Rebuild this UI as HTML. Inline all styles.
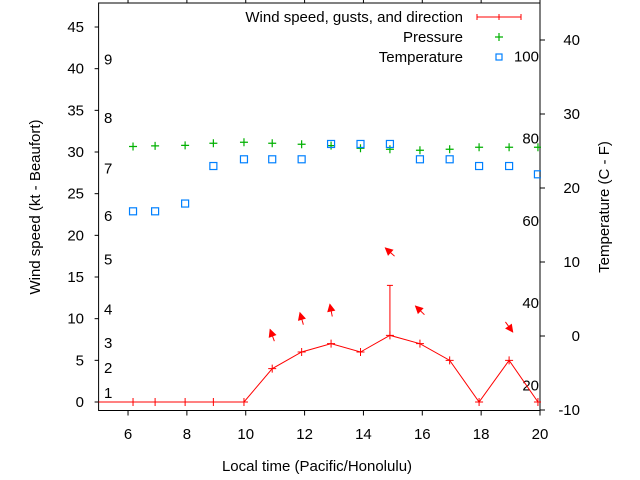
<!DOCTYPE html>
<html><head><meta charset="utf-8"><style>
html,body{margin:0;padding:0;background:#fff;width:640px;height:480px;overflow:hidden}
svg{display:block;font-family:"Liberation Sans",Arial,sans-serif;font-size:15px}
</style></head><body>
<svg id="chart" width="640" height="480" viewBox="0 0 640 480"></svg>
<script>
const times=[6.17,6.92,7.94,8.9,9.94,10.9,11.9,12.9,13.9,14.9,15.92,16.93,17.93,18.95,19.93];
const windSpeed=[0,0,0,0,0,4,6,7,6,8,7,5,0,5,0];
const windGust=[null,null,null,null,null,null,null,null,null,14,null,null,null,null,null];
const windDir=[null,null,null,null,null,340,344,349,null,312,314,null,null,144,null];
const pressure=[30.66,30.74,30.8,31.05,31.17,31.05,30.93,30.77,30.45,30.33,30.21,30.33,30.57,30.57,30.57];
const tempC=[16.85,16.85,17.9,22.97,23.88,23.88,23.88,25.95,25.95,25.95,23.88,23.88,22.97,22.97,21.85];
const xTicks=[6,8,10,12,14,16,18,20];
const yTicks=[0,5,10,15,20,25,30,35,40,45];
const y2Ticks=[-10,0,10,20,30,40];
const fTicks=[20,40,60,80,100];
const beaufortLabels=[1,2,3,4,5,6,7,8,9];
const beaufortY=[1.1,4.1,7.1,11.1,17.1,22.3,28,34.1,41.1];

const L=98.6,R=540,T=3,B=410.5;
const X=t=>L+(t-5)*(R-L)/15;
const Y=v=>402-v*8.333;
const Y2=c=>336-c*7.4;
const svg=document.getElementById('chart');
const NS='http://www.w3.org/2000/svg';
function mk(tag,attrs,parent){const e=document.createElementNS(NS,tag);for(const k in attrs)e.setAttribute(k,attrs[k]);(parent||svg).appendChild(e);return e;}

const frame=mk('rect',{x:L,y:T,width:R-L,height:B-T,fill:'none',stroke:'#000','stroke-width':1});



xTicks.forEach(t=>{
  const x=X(t);
  mk('line',{x1:x,y1:B,x2:x,y2:B+5,stroke:'#000'});
  mk('line',{x1:x,y1:T,x2:x,y2:T-4,stroke:'#000'});
  const tx=mk('text',{x:x,y:439,'text-anchor':'middle'});
  tx.textContent=t;
  
  
});
yTicks.forEach(v=>{
  const y=Y(v);
  mk('line',{x1:L-4,y1:y,x2:L,y2:y,stroke:'#000'});
  const tx=mk('text',{x:84,y:y+5,'text-anchor':'end'});
  tx.textContent=v;
  
  
});
y2Ticks.forEach(v=>{
  const y=Y2(v);
  mk('line',{x1:R,y1:y,x2:R+5,y2:y,stroke:'#000'});
  const tx=mk('text',{x:580,y:y+5,'text-anchor':'end'});
  tx.textContent=v;
  
  
});
fTicks.forEach(f=>{
  const y=Y2((f-32)*5/9);
  const tx=mk('text',{x:539,y:y+5,'text-anchor':'end'});
  tx.textContent=f;
  
  
});
beaufortLabels.forEach((b,i)=>{
  const tx=mk('text',{x:104,y:Y(beaufortY[i])+5});
  tx.textContent=b;
  
  
});

let t1=mk('text',{x:317,y:471,'text-anchor':'middle'});t1.textContent='Local time (Pacific/Honolulu)';


let t2=mk('text',{x:0,y:0,'text-anchor':'middle',transform:'translate(40,207) rotate(-90)'});t2.textContent='Wind speed (kt - Beaufort)';


let t3=mk('text',{x:0,y:0,'text-anchor':'middle',transform:'translate(609,207) rotate(-90)'});t3.textContent='Temperature (C - F)';



const defs=mk('defs',{});
const cp=mk('clipPath',{id:'pc'},defs);
mk('rect',{x:L,y:T,width:R-L+1,height:B-T},cp);
const g=mk('g',{'clip-path':'url(#pc)'});

pressure.forEach((p,i)=>{
  const x=X(times[i]),y=Y(p);
  const c=mk('path',{d:`M${x-4},${y}H${x+4}M${x},${y-4}V${y+4}`,stroke:'#00b000','stroke-width':1.2},g);
  
  
});
tempC.forEach((c,i)=>{
  const x=X(times[i]),y=Y2(c);
  const r=mk('rect',{x:x-3.5,y:y-3.5,width:7,height:7,fill:'none',stroke:'#0080ff','stroke-width':1.2},g);
  
  
});
let d=`M${X(4.9)},${Y(0)}`;
times.forEach((t,i)=>{d+=`L${X(t)},${Y(windSpeed[i])}`;});
const wl=mk('path',{d:d,fill:'none',stroke:'#f00','stroke-width':1},g);


times.forEach((t,i)=>{
  const x=X(t),y=Y(windSpeed[i]);
  const m=mk('path',{d:`M${x-4},${y}H${x+4}M${x},${y-4}V${y+4}`,stroke:'#f00','stroke-width':1},g);
  
  
  if(windGust[i]!=null){
    const gy=Y(windGust[i]);
    const gb=mk('path',{d:`M${x},${y}V${gy}M${x-3},${gy}H${x+3}`,stroke:'#f00','stroke-width':1},g);
    
    
  }
  if(windDir[i]!=null){
    const top=Math.max(windSpeed[i],windGust[i]||0)+4;
    const cy=Y(top),a=windDir[i]*Math.PI/180,len=12.5;
    const dx=Math.sin(a)*len/2,dy=-Math.cos(a)*len/2;
    const hx=x+dx,hy=cy+dy,tx=x-dx,ty=cy-dy;
    const ux=dx/(len/2),uy=dy/(len/2);
    const p1x=hx-ux*7-uy*3.5,p1y=hy-uy*7+ux*3.5,p2x=hx-ux*7+uy*3.5,p2y=hy-uy*7-ux*3.5;
    const ar=mk('g',{},g);
    
    
    mk('line',{x1:tx,y1:ty,x2:hx,y2:hy,stroke:'#f00','stroke-width':1},ar);
    mk('polygon',{points:`${hx},${hy} ${p1x},${p1y} ${p2x},${p2y}`,fill:'#f00',stroke:'#f00','stroke-width':0.8},ar);
  }
});

const lg=mk('g',{});


const legItems=['Wind speed, gusts, and direction','Pressure','Temperature'];
legItems.forEach((s,i)=>{
  const y=17+i*20;
  const tx=mk('text',{x:463,y:y+5,'text-anchor':'end'},lg);
  tx.textContent=s;
  
  
});
mk('path',{d:'M477,17H521M477,14V20M521,14V20M499,14V20',stroke:'#f00','stroke-width':1},lg);
mk('path',{d:'M495,37H503M499,33V41',stroke:'#00b000','stroke-width':1.2},lg);
mk('rect',{x:496,y:54,width:6,height:6,fill:'none',stroke:'#0080ff','stroke-width':1.2},lg);
</script>
</body></html>
